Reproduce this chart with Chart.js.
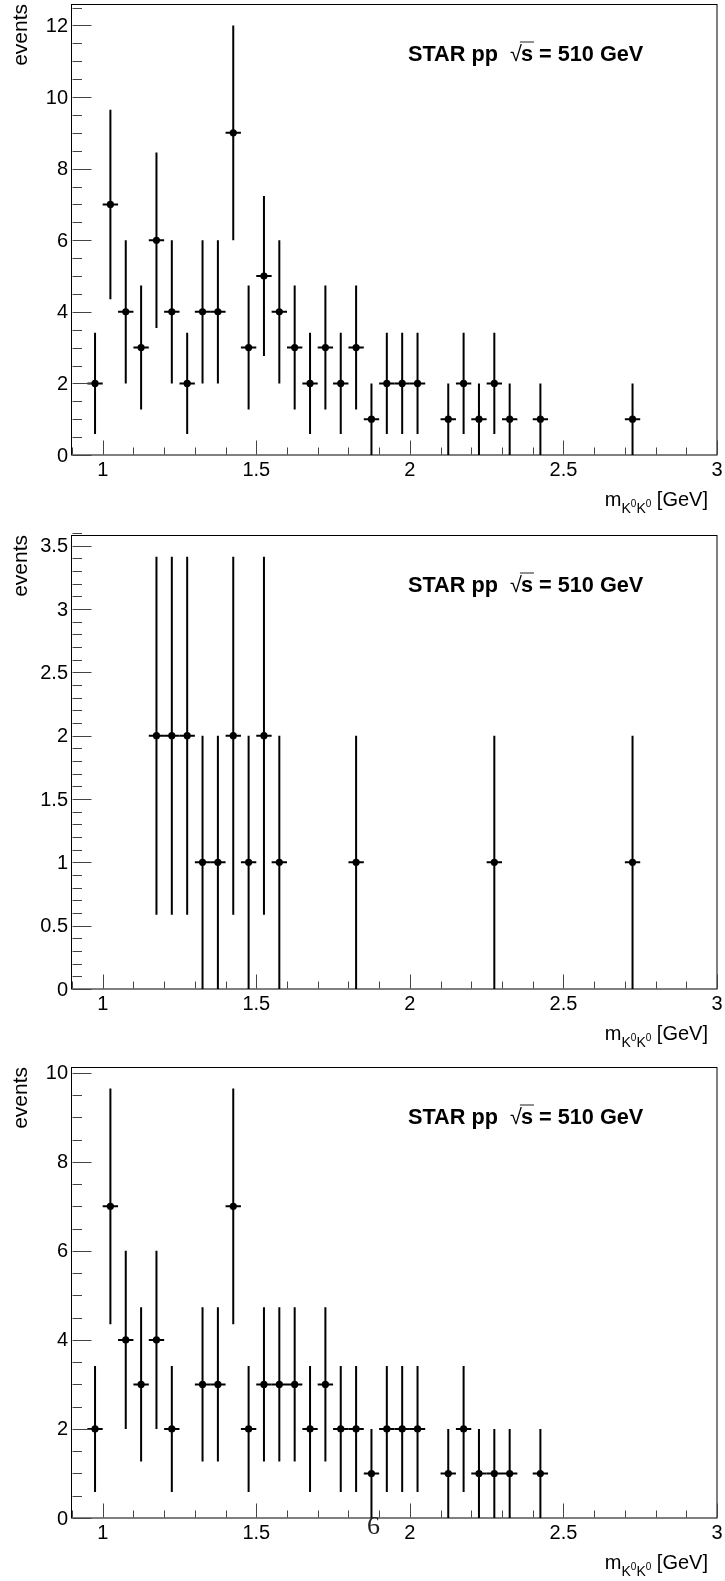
<!DOCTYPE html>
<html>
<head>
<meta charset="utf-8">
<script src="https://cdn.jsdelivr.net/npm/chart.js@4.4.1/dist/chart.umd.min.js"></script>
<style>
  html, body { margin: 0; padding: 0; background: #fff; }
  .pad { position: relative; width: 725px; height: 527px; }
</style>
</head>
<body>
<div class="pad"><canvas id="c1"></canvas></div>
<div class="pad"><canvas id="c2"></canvas></div>
<div class="pad"><canvas id="c3"></canvas></div>
<script>
// bin centres of the K0K0 mass histogram (GeV), bin width 0.05
const massBins = [0.975, 1.025, 1.075, 1.125, 1.175, 1.225, 1.275, 1.325, 1.375, 1.425,
                  1.475, 1.525, 1.575, 1.625, 1.675, 1.725, 1.775, 1.825, 1.875, 1.925,
                  1.975, 2.025, 2.075, 2.125, 2.175, 2.225, 2.275, 2.325, 2.375, 2.425,
                  2.475, 2.525, 2.575, 2.625, 2.675, 2.725];
// event counts per bin, one list per panel
const eventsTop    = [2, 7, 4, 3, 6, 4, 2, 4, 4, 9, 3, 5, 4, 3, 2, 3, 2, 3, 1, 2,
                      2, 2, 0, 1, 2, 1, 2, 1, 0, 1, 0, 0, 0, 0, 0, 1];
const eventsMiddle = [0, 0, 0, 0, 2, 2, 2, 1, 1, 2, 1, 2, 1, 0, 0, 0, 0, 1, 0, 0,
                      0, 0, 0, 0, 0, 0, 1, 0, 0, 0, 0, 0, 0, 0, 0, 1];
const eventsBottom = [2, 7, 4, 3, 4, 2, 0, 3, 3, 7, 2, 3, 3, 3, 2, 3, 2, 2, 1, 2,
                      2, 2, 0, 1, 2, 1, 1, 1, 0, 1, 0, 0, 0, 0, 0, 0];

const xTickLabels = [1, 1.5, 2, 2.5, 3];
const yTicksTop = [0, 2, 4, 6, 8, 10, 12];
const yTicksMiddle = [0, 0.5, 1, 1.5, 2, 2.5, 3, 3.5];
const yTicksBottom = [0, 2, 4, 6, 8, 10];
const xRange = [0.9, 3.0];
const yMaxes = [12.6, 3.585, 10.13];
const binHalf = 0.025;

const FONT = "'Liberation Sans', Arial, Helvetica, sans-serif";

function drawStar(ctx, x, y) {
    ctx.save();
    ctx.fillStyle = '#000';
    ctx.textAlign = 'left';
    ctx.textBaseline = 'alphabetic';
    ctx.font = 'bold 21.7px ' + FONT;
    let s1 = 'STAR pp  ';
    ctx.fillText(s1, x, y);
    x += ctx.measureText(s1).width;
    ctx.font = '21.7px ' + FONT;
    ctx.fillText('\u221A', x, y);
    x += ctx.measureText('\u221A').width - 1;
    ctx.font = 'bold 21.7px ' + FONT;
    let ws = ctx.measureText('s').width;
    ctx.fillText('s', x, y);
    ctx.lineWidth = 1.2;
    ctx.beginPath();
    ctx.moveTo(x - 1, y - 19);
    ctx.lineTo(x + ws + 1, y - 19);
    ctx.stroke();
    x += ws;
    ctx.fillText(' = 510 GeV', x, y);
    ctx.restore();
}

function drawMassTitle(ctx, right, y) {
    ctx.save();
    ctx.fillStyle = '#000';
    ctx.textBaseline = 'alphabetic';
    ctx.textAlign = 'left';
    ctx.font = '20px ' + FONT;
    const wm = ctx.measureText('m').width;
    const wg = ctx.measureText(' [GeV]').width;
    ctx.font = '14px ' + FONT;
    const wk = ctx.measureText('K').width;
    ctx.font = '10px ' + FONT;
    const w0 = ctx.measureText('0').width;
    const total = wm + 2 * (wk + w0) + wg;
    let x = right - total;
    ctx.font = '20px ' + FONT;
    ctx.fillText('m', x, y);
    x += wm;
    for (let i = 0; i < 2; i++) {
        ctx.font = '14px ' + FONT;
        ctx.fillText('K', x, y + 7);
        x += wk;
        ctx.font = '10px ' + FONT;
        ctx.fillText('0', x, y + 1);
        x += w0;
    }
    ctx.font = '20px ' + FONT;
    ctx.fillText(' [GeV]', x, y);
    ctx.restore();
}

function makePanel(id, counts, yTicks, yMinorStep, yMax, pad, stray) {
    const points = [];
    massBins.forEach(function(m, i) {
        if (counts[i] > 0) points.push({ x: m, y: counts[i] });
    });

    const rootStyle = {
        id: 'rootStyle',
        beforeDatasetsDraw: function(chart) {
            const ctx = chart.ctx;
            const xs = chart.scales.x, ys = chart.scales.y;
            const a = chart.chartArea;
            ctx.save();

            // error bars
            ctx.strokeStyle = '#000';
            ctx.lineWidth = 2;
            points.forEach(function(p) {
                const err = Math.sqrt(p.y);
                const px = xs.getPixelForValue(p.x);
                const py = ys.getPixelForValue(p.y);
                ctx.beginPath();
                ctx.moveTo(px, ys.getPixelForValue(Math.max(0, p.y - err)));
                ctx.lineTo(px, ys.getPixelForValue(p.y + err));
                ctx.moveTo(xs.getPixelForValue(p.x - binHalf), py);
                ctx.lineTo(xs.getPixelForValue(p.x + binHalf), py);
                ctx.stroke();
            });

            // frame
            ctx.lineWidth = 1;
            ctx.strokeStyle = '#000';
            ctx.strokeRect(Math.round(a.left) - 0.5, Math.round(a.top) + 0.5,
                           Math.round(a.right - a.left) + 0.5, Math.round(a.bottom - a.top) - 0.5);

            // inward ticks
            ctx.strokeStyle = '#444';
            ctx.beginPath();
            const yb = Math.round(a.bottom) - 0.5;
            for (let v = 0.9; v <= 3.0001; v += 0.1) {
                const px = Math.round(xs.getPixelForValue(v)) + 0.5;
                const major = Math.abs(v * 2 - Math.round(v * 2)) < 1e-6;
                ctx.moveTo(px, yb);
                ctx.lineTo(px, yb - (major ? 14 : 7));
            }
            const xl = Math.round(a.left) + 0.5;
            const nMinor = Math.round(yMax / yMinorStep);
            for (let k = 0; k <= nMinor; k++) {
                const v = k * yMinorStep;
                const py = Math.round(ys.getPixelForValue(v)) + 0.5;
                const major = yTicks.some(function(t) { return Math.abs(t - v) < 1e-6; });
                ctx.moveTo(xl, py);
                ctx.lineTo(xl + (major ? 19 : 9.5), py);
            }
            ctx.stroke();

            // tick labels
            ctx.fillStyle = '#000';
            ctx.font = '20px ' + FONT;
            ctx.textAlign = 'right';
            ctx.textBaseline = 'middle';
            yTicks.forEach(function(t) {
                ctx.fillText(String(t), a.left - 4, ys.getPixelForValue(t) + 1);
            });
            ctx.textAlign = 'center';
            ctx.textBaseline = 'alphabetic';
            xTickLabels.forEach(function(t) {
                ctx.fillText(String(t), xs.getPixelForValue(t), a.bottom + 21);
            });

            // axis titles
            ctx.save();
            ctx.font = '21px ' + FONT;
            ctx.translate(27, a.top);
            ctx.rotate(-Math.PI / 2);
            ctx.textAlign = 'right';
            ctx.fillText('events', 0, 0);
            ctx.restore();
            drawMassTitle(ctx, a.right - 9, a.bottom + 51);

            drawStar(ctx, 408, a.top + 57);

            if (stray) {
                ctx.fillStyle = '#222';
                ctx.font = '26px "Liberation Serif", serif';
                ctx.textAlign = 'left';
                ctx.fillText('6', stray.x, stray.y);
            }
            ctx.restore();
        }
    };

    return new Chart(document.getElementById(id), {
        type: 'scatter',
        data: {
            datasets: [{
                data: points,
                pointRadius: 3.6,
                pointBackgroundColor: '#000',
                pointBorderWidth: 0,
                showLine: false
            }]
        },
        options: {
            responsive: true,
            maintainAspectRatio: false,
            animation: false,
            events: [],
            layout: { padding: pad },
            plugins: { legend: { display: false }, tooltip: { enabled: false } },
            scales: {
                x: { type: 'linear', display: false, min: xRange[0], max: xRange[1] },
                y: { type: 'linear', display: false, min: 0, max: yMax }
            }
        },
        plugins: [rootStyle]
    });
}

makePanel('c1', eventsTop, yTicksTop, 0.5, yMaxes[0], { left: 72, right: 8, top: 3, bottom: 72 });
makePanel('c2', eventsMiddle, yTicksMiddle, 0.1, yMaxes[1], { left: 72, right: 8, top: 8, bottom: 65 });
makePanel('c3', eventsBottom, yTicksBottom, 0.5, yMaxes[2], { left: 72, right: 8, top: 13, bottom: 63 },
          { x: 367, y: 480 });
</script>
</body>
</html>
